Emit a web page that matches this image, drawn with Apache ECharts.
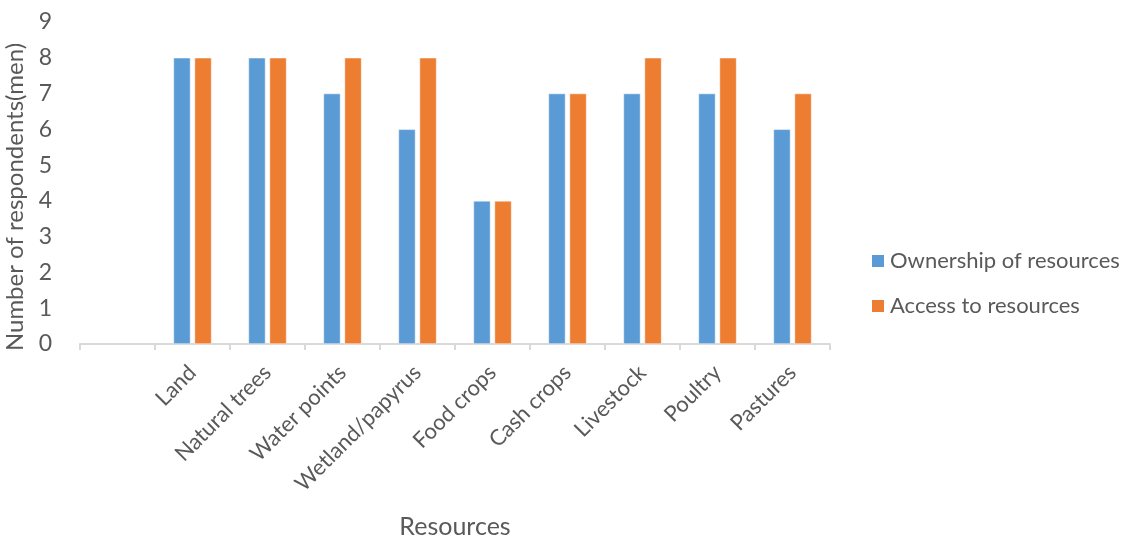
<!DOCTYPE html>
<html lang="en">
<head>
    <meta charset="UTF-8">
    <title>Resources</title>
    <script src="https://cdn.jsdelivr.net/npm/echarts@6/dist/echarts.min.js"></script>
    <style>
        html,body{margin:0;padding:0;background:#fff;}
        #main{width:1129px;height:536px;}
    </style>
</head>
<body>
<div id="main"></div>
<script>
    // first slot is empty in the original chart
    var categories=['', 'Land', 'Natural trees', 'Water points', 'Wetland/papyrus', 'Food crops', 'Cash crops', 'Livestock', 'Poultry', 'Pastures'];
    var ownership=[null, 8, 8, 7, 6, 4, 7, 7, 7, 6];
    var access=[null, 8, 8, 8, 8, 4, 7, 8, 8, 7];
    var yTicks=[0, 9, 1];

    var FONT='Lato';
    var TEXT='#595959';

    var chart=echarts.init(document.getElementById('main'));
    var option={
        animation:false,
        textStyle:{fontFamily:FONT},
        grid:{left:80, right:299, top:22, bottom:192, outerBoundsMode:'none'},
        legend:{
            orient:'vertical',
            left:865, top:245,
            itemWidth:14, itemHeight:14,
            itemGap:23,
            icon:'rect',
            textStyle:{fontFamily:FONT, fontSize:22, color:TEXT}
        },
        xAxis:{
            type:'category',
            data:categories,
            name:'Resources',
            nameLocation:'middle',
            nameGap:170,
            nameTextStyle:{fontFamily:FONT, fontSize:25, color:TEXT},
            axisLine:{lineStyle:{color:'#d9d9d9', width:2}},
            axisTick:{show:true, length:6, lineStyle:{color:'#d9d9d9', width:2}},
            axisLabel:{rotate:45, interval:0, fontFamily:FONT, fontSize:22, color:TEXT, margin:25}
        },
        yAxis:{
            type:'value',
            min:yTicks[0], max:yTicks[1], interval:yTicks[2],
            name:'Number of respondents(men)',
            nameLocation:'middle',
            nameGap:53,
            nameTextStyle:{fontFamily:FONT, fontSize:24, color:TEXT, padding:[0,28,0,0]},
            axisLine:{show:false},
            axisTick:{show:false},
            splitLine:{show:false},
            axisLabel:{fontFamily:FONT, fontSize:23, color:TEXT, margin:28}
        },
        series:[{
            name:'Ownership of resources',
            type:'bar',
            data:ownership,
            barWidth:17,
            barGap:'24%',
            itemStyle:{color:'#5b9bd5', borderColor:'#ffffff', borderWidth:0.5}
        },{
            name:'Access to resources',
            type:'bar',
            data:access,
            barWidth:17,
            itemStyle:{color:'#ed7d31', borderColor:'#ffffff', borderWidth:0.5}
        }]
    };
    chart.setOption(option);
</script>
</body>
</html>
